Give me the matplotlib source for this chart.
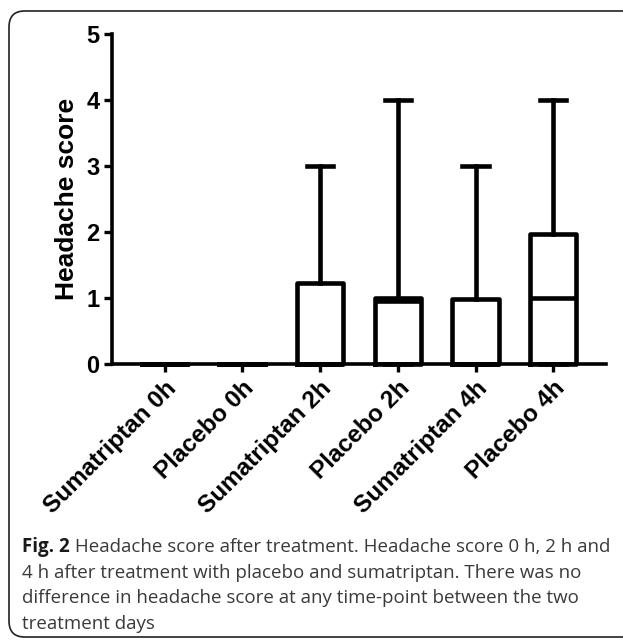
import matplotlib
matplotlib.use("Agg")
import matplotlib.pyplot as plt
from matplotlib.patches import FancyBboxPatch

categories = ["Sumatriptan 0h", "Placebo 0h", "Sumatriptan 2h",
              "Placebo 2h", "Sumatriptan 4h", "Placebo 4h"]
q1 = [0, 0, 0, 0, 0, 0]
med = [0, 0, 0, 0.96, 0, 1.0]
q3 = [0, 0, 1.22, 1.0, 0.98, 1.97]
wlo = [0, 0, 0, 0, 0, 0]
whi = [0, 0, 3, 4, 3, 4]
yticks = [0, 1, 2, 3, 4, 5]

caption_head = "Fig. 2"
caption_lines = [
    " Headache score after treatment. Headache score 0 h, 2 h and",
    "4 h after treatment with placebo and sumatriptan. There was no",
    "difference in headache score at any time-point between the two",
    "treatment days",
]

W, H = 623, 643
fig = plt.figure(figsize=(W / 100, H / 100), dpi=100)

# rounded frame around figure + caption (right side runs off the image)
frame = FancyBboxPatch((9 / W, 6 / H), 1.2, (H - 11 - 6) / H,
                       boxstyle="round,pad=0,rounding_size=0.025",
                       transform=fig.transFigure, fill=False,
                       edgecolor="#222222", linewidth=1.2)
fig.patches.append(frame)

ax = fig.add_axes([112 / W, 1 - 364 / H, (606 - 112) / W, (364 - 34) / H])

stats = []
for i in range(len(categories)):
    stats.append(dict(med=med[i], q1=q1[i], q3=q3[i],
                      whislo=wlo[i], whishi=whi[i], fliers=[]))

lw = 3.3
art = ax.bxp(stats, positions=range(len(categories)), widths=0.6,
             showfliers=False, patch_artist=False,
             boxprops=dict(color="black", linewidth=lw),
             medianprops=dict(color="black", linewidth=lw),
             whiskerprops=dict(color="black", linewidth=lw),
             capprops=dict(color="black", linewidth=lw),
             capwidths=0.34)
for key in ["boxes", "medians", "whiskers", "caps"]:
    for a in art[key]:
        a.set_clip_on(False)
        a.set_zorder(5)

ax.set_xlim(-0.68, 5.68)
ax.set_ylim(0, 5)
ax.set_yticks(yticks)
ax.set_xticks(range(len(categories)))

for s in ["top", "right"]:
    ax.spines[s].set_visible(False)
for s in ["left", "bottom"]:
    ax.spines[s].set_linewidth(2.6)
ax.tick_params(width=2.4, length=6, pad=3)

font = "Liberation Sans"
ax.set_yticklabels([str(t) for t in yticks], fontsize=17,
                   fontweight="bold", family=font)
ax.set_xticklabels(categories, rotation=45, ha="right",
                   rotation_mode="anchor", fontsize=17.5,
                   fontweight="bold", family=font)
ax.set_ylabel("Headache score", fontsize=19, fontweight="bold",
              family=font, labelpad=5)

# caption
cap_font = "Open Sans"
cs = 13.5
y0 = 1 - 552 / H
t = fig.text(22 / W, y0, caption_head, fontsize=cs, fontweight="bold",
             family=cap_font, color="#1a1a1a", va="baseline")
fig.canvas.draw()
bb = t.get_window_extent()
fig.text(bb.x1 / W, y0, caption_lines[0], fontsize=cs, family=cap_font,
         color="#3a3a3a", va="baseline")
for k, line in enumerate(caption_lines[1:]):
    fig.text(22 / W, 1 - (552 + 25.7 * (k + 1)) / H, line, fontsize=cs,
             family=cap_font, color="#3a3a3a", va="baseline")

fig.savefig("out.png", dpi=100)
